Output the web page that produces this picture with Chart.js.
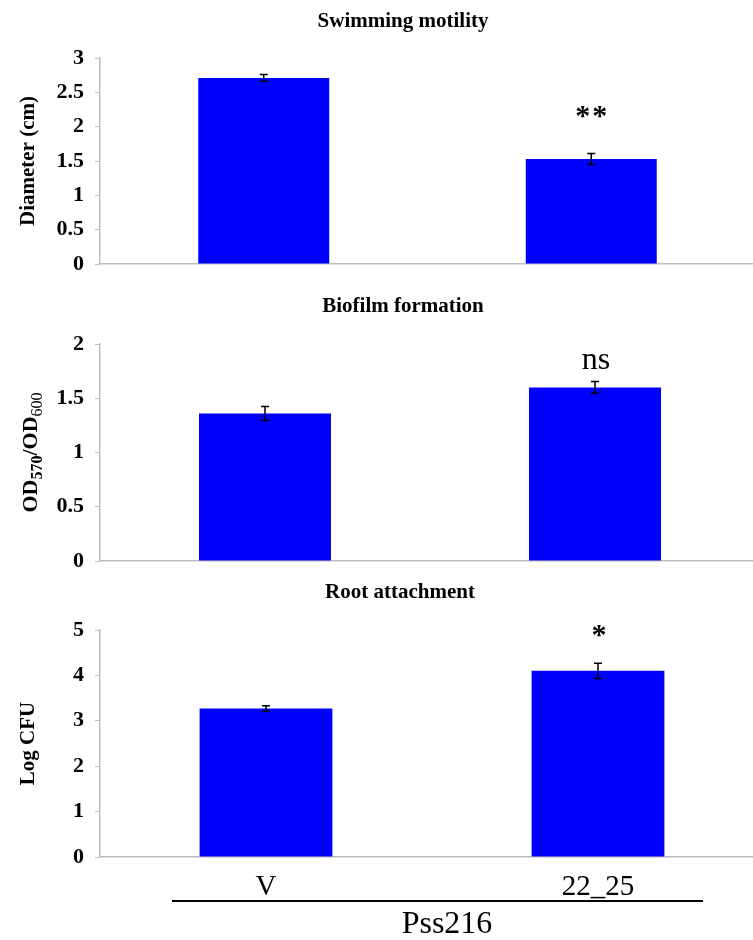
<!DOCTYPE html>
<html>
<head>
<meta charset="utf-8">
<script src="https://cdn.jsdelivr.net/npm/chart.js@4.4.1/dist/chart.umd.min.js"></script>
<style>
    html, body { margin: 0; padding: 0; background: #fff; overflow: hidden; }
    #wrap { position: relative; width: 753px; height: 940px; overflow: hidden; }
    .panel { position: absolute; left: 0; }
</style>
</head>
<body>
<div id="wrap">
    <div class="panel" style="top:0; width:755px; height:280px;"><canvas id="swim"></canvas></div>
    <div class="panel" style="top:280px; width:760px; height:300px;"><canvas id="biofilm"></canvas></div>
    <div class="panel" style="top:580px; width:764px; height:360px;"><canvas id="root"></canvas></div>
</div>
<script>
// Data
const groups = ['V', '22_25'];

const swimValues = [2.71, 1.53];
const swimErrors = [0.05, 0.08];
const swimMarks = ['', '**'];

const biofilmValues = [1.36, 1.60];
const biofilmErrors = [0.065, 0.055];
const biofilmMarks = ['', 'ns'];

const rootValues = [3.27, 4.10];
const rootErrors = [0.06, 0.17];
const rootMarks = ['', '*'];

const SERIF = '"Liberation Serif", "Times New Roman", serif';
const AXIS_GREY = '#bdbdbd';

// Error bars + significance marks above each bar
const errorBarPlugin = {
    id: 'errorBars',
    afterDatasetsDraw(chart, args, opts) {
        const ctx = chart.ctx;
        const yScale = chart.scales.y;
        const ds = chart.data.datasets[0];
        const meta = chart.getDatasetMeta(0);
        ctx.save();
        meta.data.forEach((bar, i) => {
            const v = ds.data[i];
            const e = ds.errors[i];
            const yTop = yScale.getPixelForValue(v + e);
            const yBot = yScale.getPixelForValue(v - e);
            ctx.strokeStyle = '#000';
            ctx.lineWidth = 1.5;
            ctx.beginPath();
            ctx.moveTo(bar.x, yTop);
            ctx.lineTo(bar.x, yBot);
            ctx.moveTo(bar.x - 4, yTop);
            ctx.lineTo(bar.x + 4, yTop);
            ctx.moveTo(bar.x - 4, yBot);
            ctx.lineTo(bar.x + 4, yBot);
            ctx.stroke();

            const mark = opts.marks ? opts.marks[i] : '';
            if (mark) {
                ctx.fillStyle = '#000';
                ctx.font = opts.markFont;
                ctx.letterSpacing = opts.markSpacing || '0px';
                ctx.textAlign = 'center';
                ctx.textBaseline = 'middle';
                ctx.fillText(mark, bar.x + 1, yTop - opts.markGap);
            }
        });
        ctx.restore();
    }
};

// Panel heading and any extra free text
const headingPlugin = {
    id: 'heading',
    afterDraw(chart, args, opts) {
        const ctx = chart.ctx;
        ctx.save();
        ctx.fillStyle = '#000';
        ctx.textAlign = 'center';
        ctx.textBaseline = 'middle';
        ctx.font = 'bold 21px ' + SERIF;
        ctx.fillText(opts.text, opts.x, opts.y);
        if (opts.extra) opts.extra(ctx, chart);
        ctx.restore();
    }
};

function makePanel(id, values, errors, marks, cfg) {
    return new Chart(document.getElementById(id), {
        type: 'bar',
        data: {
            labels: groups,
            datasets: [{
                data: values,
                errors: errors,
                backgroundColor: '#0000ff',
                borderWidth: 0,
                barPercentage: 0.4,
                categoryPercentage: 1.0
            }]
        },
        options: {
            responsive: true,
            maintainAspectRatio: false,
            animation: false,
            layout: { padding: { top: cfg.padTop, bottom: 0, left: 0, right: 0 } },
            plugins: {
                legend: { display: false },
                tooltip: { enabled: false },
                errorBars: { marks: marks, markFont: cfg.markFont, markGap: cfg.markGap, markSpacing: cfg.markSpacing },
                heading: { text: cfg.title, x: cfg.titleX, y: cfg.titleY, extra: cfg.extra }
            },
            scales: {
                x: {
                    grid: { display: false, drawTicks: false },
                    border: { display: true, color: AXIS_GREY, width: 1.5 },
                    ticks: {
                        display: cfg.showLabels,
                        color: '#000',
                        padding: 13,
                        font: { family: SERIF, size: 29 }
                    },
                    afterFit: s => { s.height = cfg.xHeight; }
                },
                y: {
                    min: 0,
                    max: cfg.yMax,
                    grid: { display: true, drawOnChartArea: false, drawTicks: true, tickLength: 5, color: AXIS_GREY },
                    border: { display: true, color: AXIS_GREY, width: 1.5 },
                    ticks: {
                        stepSize: cfg.step,
                        color: '#000',
                        padding: 11,
                        font: { family: SERIF, size: 22, weight: 'bold' },
                        callback: value => String(value)
                    },
                    title: {
                        display: !!cfg.yTitle,
                        text: cfg.yTitle || '',
                        color: '#000',
                        font: { family: SERIF, size: 21, weight: 'bold' },
                        padding: { top: 16, bottom: 0 }
                    },
                    afterFit: s => {
                        s.width = 100;
                        // let the edge tick labels overhang; layout padding places the plot
                        s.paddingTop = 0;
                        s.paddingBottom = 0;
                    }
                }
            }
        },
        plugins: [errorBarPlugin, headingPlugin]
    });
}

makePanel('swim', swimValues, swimErrors, swimMarks, {
    title: 'Swimming motility', titleX: 403, titleY: 22,
    yTitle: 'Diameter (cm)', yMax: 3, step: 0.5,
    padTop: 58, xHeight: 16, showLabels: false,
    markFont: 'bold 30px ' + SERIF, markGap: 36, markSpacing: '2px'
});

makePanel('biofilm', biofilmValues, biofilmErrors, biofilmMarks, {
    title: 'Biofilm formation', titleX: 403, titleY: 27,
    yTitle: null, yMax: 2, step: 0.5,
    padTop: 64, xHeight: 19, showLabels: false,
    markFont: '32px ' + SERIF, markGap: 21,
    // OD570/OD600 with subscripts, rotated
    extra: (ctx, chart) => {
        const a = chart.chartArea;
        ctx.translate(29, (a.top + a.bottom) / 2);
        ctx.rotate(-Math.PI / 2);
        ctx.textBaseline = 'alphabetic';
        ctx.textAlign = 'left';
        const parts = [
            { t: 'OD', f: 'bold 22px ' + SERIF, dy: 0 },
            { t: '570', f: 'bold 16px ' + SERIF, dy: 5 },
            { t: '/OD', f: 'bold 22px ' + SERIF, dy: 0 },
            { t: '600', f: '16px ' + SERIF, dy: 5 }
        ];
        let total = 0;
        parts.forEach(p => { ctx.font = p.f; total += ctx.measureText(p.t).width; });
        let x = -total / 2;
        parts.forEach(p => {
            ctx.font = p.f;
            ctx.fillText(p.t, x, 8 + p.dy);
            x += ctx.measureText(p.t).width;
        });
    }
});

makePanel('root', rootValues, rootErrors, rootMarks, {
    title: 'Root attachment', titleX: 400, titleY: 13,
    yTitle: 'Log CFU', yMax: 5, step: 1,
    padTop: 50, xHeight: 83, showLabels: true,
    markFont: 'bold 30px ' + SERIF, markGap: 27,
    // group line and strain label under the categories
    extra: (ctx) => {
        ctx.strokeStyle = '#000';
        ctx.lineWidth = 2;
        ctx.beginPath();
        ctx.moveTo(172, 321);
        ctx.lineTo(703, 321);
        ctx.stroke();
        ctx.font = '32px ' + SERIF;
        ctx.textAlign = 'center';
        ctx.textBaseline = 'middle';
        ctx.fillText('Pss216', 447, 345);
    }
});
</script>
</body>
</html>
